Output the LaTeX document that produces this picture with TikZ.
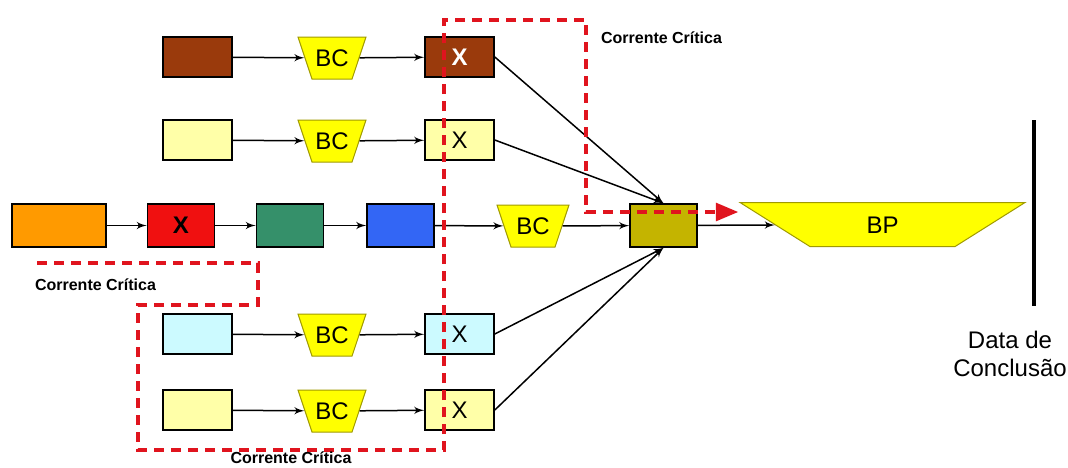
\documentclass[tikz,border=0pt]{standalone}
\usepackage{fontspec}
\setmainfont{Liberation Sans}
\usetikzlibrary{positioning,arrows,shapes.geometric}
\definecolor{rust}{HTML}{9A3A0C}
\definecolor{cream}{HTML}{FFFFA8}
\definecolor{ice}{HTML}{CCFAFF}
\definecolor{amber}{HTML}{FF9A00}
\definecolor{signal}{HTML}{F01010}
\definecolor{jade}{HTML}{35906A}
\definecolor{royal}{HTML}{3366F5}
\definecolor{olive}{HTML}{C4B400}
\definecolor{bufyellow}{HTML}{FFFF00}
\definecolor{bufline}{HTML}{A09A00}
\definecolor{critred}{HTML}{E0141E}
\tikzset{
    x=0.5pt,
    y=-0.5pt,
    block/.style = {
        draw,
        shape=rectangle,
        minimum height=20pt,
        minimum width=34.5pt,
        inner sep=0pt,
        line width=0.8pt,
        font=\fontsize{12}{12}\selectfont
    },
    wide/.style = {
        block,
        minimum height=21.5pt,
        minimum width=33.5pt
    },
    buffer/.style = {
        draw=bufline,
        fill=bufyellow,
        shape=trapezium,
        shape border rotate=180,
        trapezium left angle=71.6,
        trapezium right angle=71.6,
        trapezium stretches body,
        text height=14.8pt,
        text depth=6.2pt,
        minimum width=34pt,
        inner sep=0pt,
        line width=0.5pt,
        font=\fontsize{12}{12}\selectfont
    },
    chain/.style = {
        draw=critred,
        dash pattern=on 5pt off 3.5pt,
        line width=1.6pt
    },
    chainlabel/.style = {
        font=\bfseries\fontsize{8}{10}\selectfont
    },
    link/.style = {draw, line width=0.75pt, ->},
    >=latex',
}
\begin{document}
\begin{tikzpicture}
    \useasboundingbox (0,0) rectangle (1068,467);

    % feeding chains
    \node[block, fill=rust] (a1) at (197.5,57) {};
    \node[buffer] (bc1) at (332,58) {BC};
    \node[block, fill=rust, text=white, font=\bfseries\fontsize{12}{12}\selectfont] (x1) at (459.5,57) {X};

    \node[block, fill=cream] (a2) at (197.5,140) {};
    \node[buffer] (bc2) at (332,141) {BC};
    \node[block, fill=cream] (x2) at (459.5,140) {X};

    \node[block, fill=ice] (a4) at (197.5,334) {};
    \node[buffer] (bc4) at (332,335) {BC};
    \node[block, fill=ice] (x4) at (459.5,334) {X};

    \node[block, fill=cream] (a5) at (197.5,410) {};
    \node[buffer] (bc5) at (332,411) {BC};
    \node[block, fill=cream] (x5) at (459.5,410) {X};

    % main chain
    \node[wide, fill=amber, minimum width=47pt] (m1) at (59,225.5) {};
    \node[wide, fill=signal, font=\bfseries\fontsize{12}{12}\selectfont] (m2) at (181,225.5) {X};
    \node[wide, fill=jade] (m3) at (290,225.5) {};
    \node[wide, fill=royal] (m4) at (400.5,225.5) {};
    \node[buffer, minimum width=36pt] (bc3) at (533,226) {BC};
    \node[wide, fill=olive] (merge) at (663.5,225.5) {};
    \node[buffer, trapezium left angle=32.2, trapezium right angle=32.2,
          text height=15.3pt, text depth=6.7pt,
          minimum width=142.5pt] (bp) at (882.5,224.5) {BP};

    % due date
    \coordinate (dtop) at (1034,120);
    \coordinate (dbot) at (1034,306);
    \draw[line width=2pt] (dtop) -- (dbot);
    \node[align=center, font=\fontsize{12}{14}\selectfont] (due) at (1010,354) {Data de\\Conclusão};

    \path[link] (a1) -- (bc1);
    \path[link] (bc1) -- (x1);
    \path[link] (a2) -- (bc2);
    \path[link] (bc2) -- (x2);
    \path[link] (a4) -- (bc4);
    \path[link] (bc4) -- (x4);
    \path[link] (a5) -- (bc5);
    \path[link] (bc5) -- (x5);
    \path[link] (m1) -- (m2);
    \path[link] (m2) -- (m3);
    \path[link] (m3) -- (m4);
    \path[link] (m4) -- (bc3);
    \path[link] (bc3) -- (merge);
    \path[link] (merge) -- (bp);
    \path[link] (x1.east) -- (merge.north);
    \path[link] (x2.east) -- (merge.north);
    \path[link] (x4.east) -- (merge.south);
    \path[link] (x5.east) -- (merge.south);

    % critical chain outline
    \coordinate (c0) at (37,263);
    \coordinate (c1) at (258,263);
    \coordinate (c2) at (258,305);
    \coordinate (c3) at (138,305);
    \coordinate (c4) at (138,450);
    \coordinate (c5) at (444,450);
    \coordinate (c6) at (444,20);
    \coordinate (c7) at (586,20);
    \coordinate (c8) at (586,212);
    \coordinate (c9) at (738,212);
    \path[chain, ->, >=triangle 45] (c0) -- (c1) -- (c2) -- (c3) -- (c4) -- (c5) -- (c6) -- (c7) -- (c8) -- (c9);

    \node[chainlabel, anchor=west] (cc1) at (594,38) {Corrente Crítica};
    \node[chainlabel, anchor=west] (cc2) at (28,285) {Corrente Crítica};
    \node[chainlabel] (cc3) at (291,458) {Corrente Crítica};
\end{tikzpicture}
\end{document}
